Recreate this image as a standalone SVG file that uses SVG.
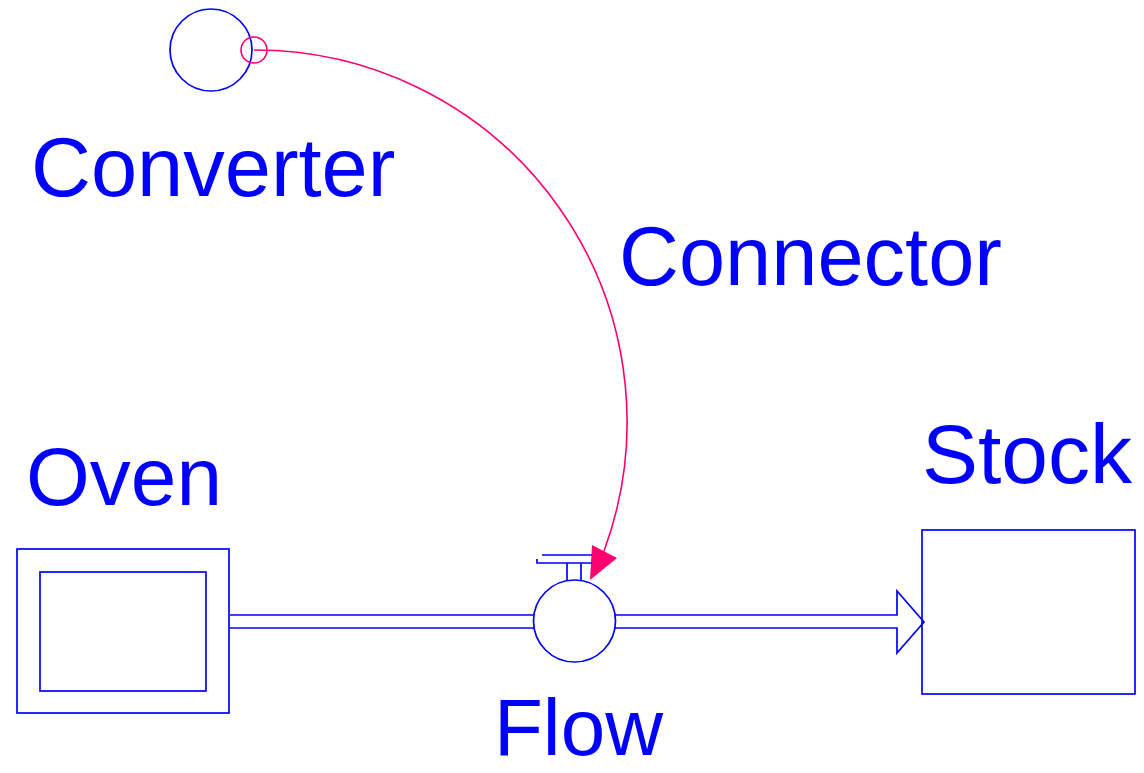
<svg xmlns="http://www.w3.org/2000/svg" width="1144" height="773" viewBox="0 0 1144 773">
<style>
.s{fill:none;stroke:#0000ff;stroke-width:1.7}
.w{fill:#fff;stroke:#0000ff;stroke-width:1.7}
.t{font-family:"Liberation Sans",Arial,sans-serif;font-size:83px;fill:#0000ff}
.c{fill:none;stroke:#ff0070;stroke-width:1.6}
</style>
<rect width="1144" height="773" fill="#fff"/>
<g id="connectors">
<path class="s" d="M230 615H535M230 628H535"/>
<path class="w" d="M615 615H897V591L924 622L897 653V628H615"/>
<path class="c" d="M254 50A372 372 0 0 1 604 551"/>
<polygon points="592,545 617,558 590,580" fill="#ff0070"/>
</g>
<g id="converter">
<circle class="s" cx="211" cy="50" r="41"/>
<circle class="c" cx="254" cy="50" r="13"/>
<text class="t" x="31" y="196">Converter</text>
</g>
<g id="connector-label">
<text class="t" x="619" y="285">Connector</text>
</g>
<g id="oven">
<rect class="s" x="17" y="549" width="212" height="164"/>
<rect class="s" x="40" y="572" width="166" height="119"/>
<text class="t" x="26" y="505" style="font-size:82px">Oven</text>
</g>
<g id="flow">
<path class="s" d="M542 555H592M537 559V563H592M567 563V580M581 563V580"/>
<circle class="w" cx="574.5" cy="621" r="41"/>
<text class="t" x="494" y="755" style="font-size:80px">Flow</text>
</g>
<g id="stock">
<rect class="s" x="922" y="530" width="213" height="164"/>
<text class="t" x="922" y="483" style="font-size:84px">Stock</text>
</g>
</svg>
